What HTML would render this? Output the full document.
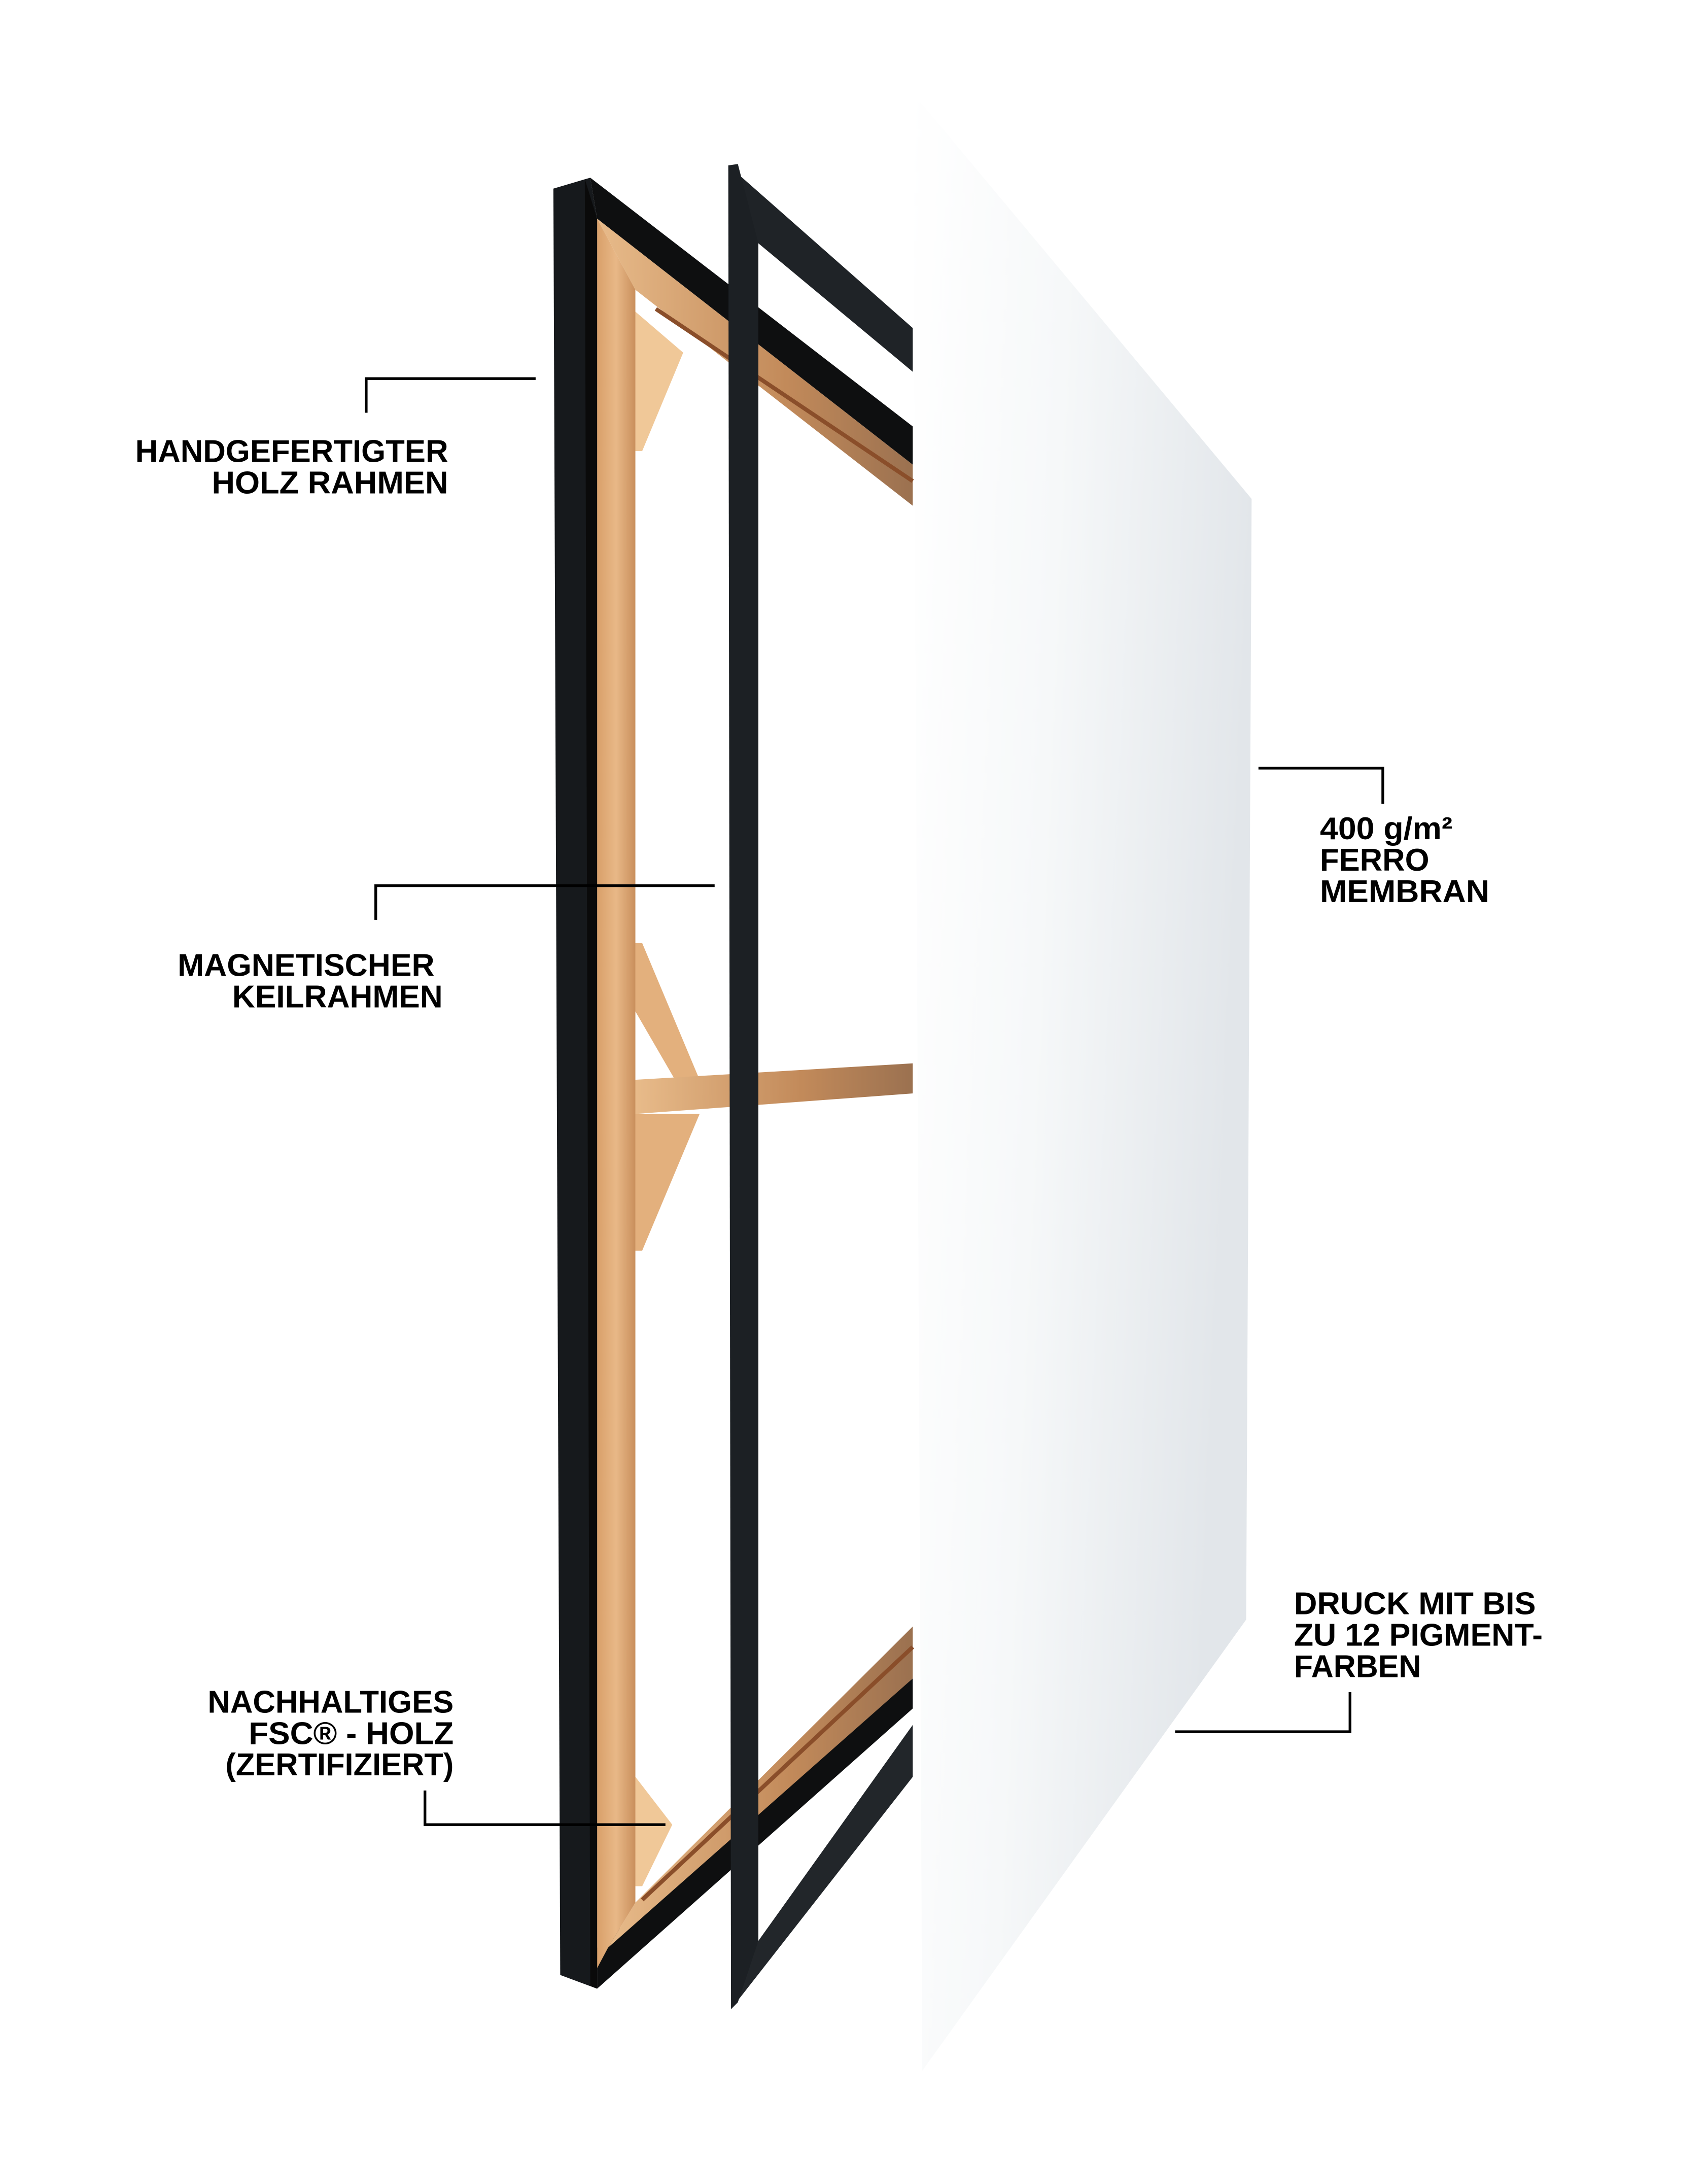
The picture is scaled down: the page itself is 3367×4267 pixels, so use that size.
<!DOCTYPE html>
<html><head><meta charset="utf-8">
<style>
html,body{margin:0;padding:0;background:#fff;}
svg{display:block;}
text{font-family:"Liberation Sans Narrow","Liberation Sans",sans-serif;font-weight:bold;font-size:23px;fill:#000;}
</style></head>
<body>
<svg width="3367" height="4267" viewBox="0 0 1250 1584" preserveAspectRatio="none" xmlns="http://www.w3.org/2000/svg">
<defs>
<linearGradient id="mem" x1="0" y1="0" x2="1" y2="0.25">
<stop offset="0" stop-color="#ffffff"/>
<stop offset="0.45" stop-color="#f6f8f9"/>
<stop offset="1" stop-color="#e2e6ea"/>
</linearGradient>
<linearGradient id="wood" x1="0" y1="0" x2="1" y2="0">
<stop offset="0" stop-color="#d9a06a"/>
<stop offset="0.5" stop-color="#e8b887"/>
<stop offset="1" stop-color="#c98f5c"/>
</linearGradient>
<linearGradient id="woodh" x1="0" y1="0" x2="1" y2="0">
<stop offset="0" stop-color="#e8bb8a"/>
<stop offset="0.6" stop-color="#c28a5a"/>
<stop offset="1" stop-color="#9b7150"/>
</linearGradient>
</defs>
<rect width="1250" height="1584" fill="#fff"/>

<polygon points="432,130 668,312 668,340 437,160" fill="#0e0f10"/>
<polygon points="437,1455 668,1250 668,1228 437,1425" fill="#0e0f10"/>
<polygon points="437,160 668,340 668,370 465,212" fill="url(#woodh)"/>
<line x1="480" y1="226" x2="668" y2="352" stroke="#8a4e2a" stroke-width="3"/>
<polygon points="445,1425 668,1228 668,1190 465,1392" fill="url(#woodh)"/>
<line x1="470" y1="1390" x2="668" y2="1205" stroke="#8a4e2a" stroke-width="3"/>
<polygon points="465,228 500,258 470,330 465,330" fill="#f0c898"/>
<polygon points="465,1300 492,1335 470,1380 465,1380" fill="#f0c898"/>
<polygon points="465,690 470,690 512,790 494,790 465,740" fill="#e3b07d"/>
<polygon points="465,815 512,815 470,915 465,915" fill="#e3b07d"/>
<polygon points="465,790 668,778 668,800 465,815" fill="url(#woodh)"/>
<polygon points="437,160 465,212 465,1392 445,1425 437,1440" fill="url(#wood)"/>
<polygon points="405,138 432,130 437,160 437,1455 410,1445" fill="#16191c"/>
<polygon points="428,131 437,160 437,1455 432,1453" fill="#0a0a0a"/>

<polygon points="533,121 668,240 668,272 555,178" fill="#1f2327"/>
<polygon points="535,1470 668,1300 668,1262 555,1420" fill="#22262a"/>
<polygon points="533,121 540,120 555,178 555,1420 540,1465 535,1470" fill="#1c2024"/>

<polygon points="668,68 916,365 912,1185 675,1515" fill="url(#mem)"/>

<g stroke="#000" stroke-width="2" fill="none">
<polyline points="392,277 268,277 268,302"/>
<polyline points="523,648 275,648 275,673"/>
<polyline points="311,1310 311,1335 487,1335"/>
<polyline points="921,562 1012,562 1012,588"/>
<polyline points="988,1238 988,1267 860,1267"/>
</g>

<text x="99" y="338" textLength="229" lengthAdjust="spacingAndGlyphs">HANDGEFERTIGTER</text>
<text x="155" y="361" textLength="173" lengthAdjust="spacingAndGlyphs">HOLZ RAHMEN</text>
<text x="130" y="714" textLength="188" lengthAdjust="spacingAndGlyphs">MAGNETISCHER</text>
<text x="170" y="737" textLength="154" lengthAdjust="spacingAndGlyphs">KEILRAHMEN</text>
<text x="152" y="1253" textLength="180" lengthAdjust="spacingAndGlyphs">NACHHALTIGES</text>
<text x="182" y="1276" textLength="150" lengthAdjust="spacingAndGlyphs">FSC® - HOLZ</text>
<text x="165" y="1299" textLength="167" lengthAdjust="spacingAndGlyphs">(ZERTIFIZIERT)</text>
<text x="966" y="614" textLength="97" lengthAdjust="spacingAndGlyphs">400 g/m²</text>
<text x="966" y="637" textLength="80" lengthAdjust="spacingAndGlyphs">FERRO</text>
<text x="966" y="660" textLength="124" lengthAdjust="spacingAndGlyphs">MEMBRAN</text>
<text x="947" y="1181" textLength="177" lengthAdjust="spacingAndGlyphs">DRUCK MIT BIS</text>
<text x="947" y="1204" textLength="182" lengthAdjust="spacingAndGlyphs">ZU 12 PIGMENT-</text>
<text x="947" y="1227" textLength="93" lengthAdjust="spacingAndGlyphs">FARBEN</text>
</svg>
</body></html>
